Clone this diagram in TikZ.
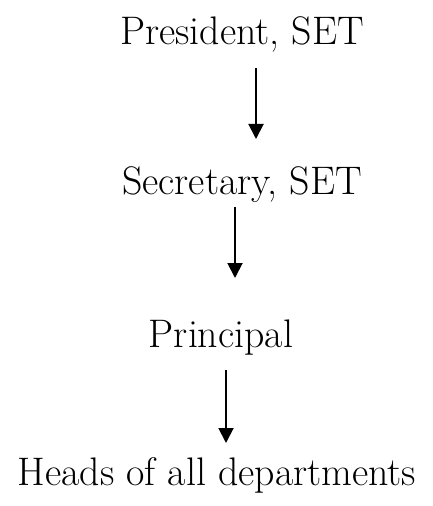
\documentclass[tikz,border=0pt]{standalone}
\usetikzlibrary{arrows.meta}

\begin{document}
\begin{tikzpicture}[x=1bp, y=-1bp,
        title/.style={anchor=base, inner sep=0pt, font=\fontsize{40}{46}\selectfont},
        down/.style={line width=1.9bp, -{Triangle[length=15bp,width=15bp]}}]
            \useasboundingbox (0,0) rectangle (433,506);
            \node[title] (pres) at (242,45) {President, SET};
            \node[title] (sec) at (242,195) {Secretary, SET};
            \node[title] (prin) at (221,347) {Principal};
            \node[title] (heads) at (217,485) {Heads of all departments};
            \coordinate (a1s) at (256,68);
            \coordinate (a1e) at (256,139);
            \coordinate (a2s) at (235,207);
            \coordinate (a2e) at (235,278);
            \coordinate (a3s) at (226,370);
            \coordinate (a3e) at (226,443);
            \draw[down] (a1s) -- (a1e);
            \draw[down] (a2s) -- (a2e);
            \draw[down] (a3s) -- (a3e);
        \end{tikzpicture}
\end{document}
